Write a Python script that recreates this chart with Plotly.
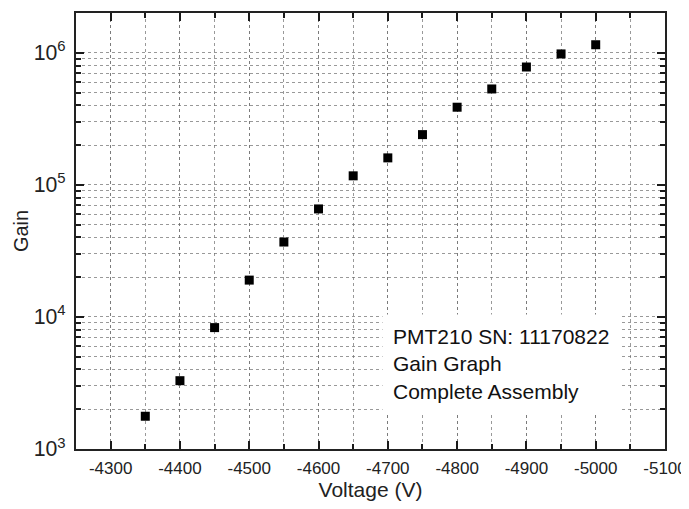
import plotly.graph_objects as go

voltage = [-4350, -4400, -4450, -4500, -4550, -4600, -4650, -4700,
           -4750, -4800, -4850, -4900, -4950, -5000]
gain = [1.77e3, 3.29e3, 8.3e3, 1.90e4, 3.69e4, 6.57e4, 1.17e5, 1.60e5,
        2.40e5, 3.87e5, 5.32e5, 7.8e5, 9.8e5, 1.15e6]
x_ticks = [-4300, -4400, -4500, -4600, -4700, -4800, -4900, -5000, -5100]
note_lines = ["PMT210 SN: 11170822", "Gain Graph", "Complete Assembly"]

FONT = "Liberation Sans, Arial, sans-serif"
TICK_COL = "#1a1a1a"

fig = go.Figure()
fig.add_trace(go.Scatter(
    x=voltage, y=gain, mode="markers",
    marker=dict(symbol="square", size=9, color="black"),
    showlegend=False,
))

grid_col = "rgba(110,110,110,0.7)"
fig.update_xaxes(
    range=[-4250, -5100], autorange=False,
    tickmode="array",
    tickvals=x_ticks, ticktext=[str(v) for v in x_ticks],
    ticks="inside", ticklen=8, tickwidth=2, tickcolor=TICK_COL,
    showline=True, linecolor="#222", linewidth=2, mirror="allticks",
    showgrid=True, gridcolor=grid_col, griddash="dot", gridwidth=1,
    minor=dict(dtick=50, tick0=-4250, ticks="inside", ticklen=5, tickwidth=1.5,
               tickcolor=TICK_COL, showgrid=True, gridcolor=grid_col,
               griddash="dot", gridwidth=1),
    zeroline=False, automargin=False, ticklabelstandoff=3,
    ticklabeloverflow="allow",
    tickfont=dict(family=FONT, size=17, color="#222"),
    title=dict(text="Voltage (V)", font=dict(family=FONT, size=21, color="#222"),
               standoff=7),
)
fig.update_yaxes(
    type="log", range=[3, 6.301], autorange=False,
    dtick=1, exponentformat="power",
    ticks="inside", ticklen=8, tickwidth=2, tickcolor=TICK_COL,
    showline=True, linecolor="#222", linewidth=2, mirror="allticks",
    showgrid=True, gridcolor=grid_col, griddash="dot", gridwidth=1,
    minor=dict(dtick="D1", ticks="inside", ticklen=5, tickwidth=1.5,
               tickcolor=TICK_COL, showgrid=True, gridcolor=grid_col,
               griddash="dot", gridwidth=1),
    zeroline=False, automargin=False, ticklabelstandoff=5,
    tickfont=dict(family=FONT, size=17, color="#222"),
    title=dict(text="Gain", font=dict(family=FONT, size=20, color="#222"),
               standoff=0),
)

fig.add_annotation(
    x=0.52, y=0.195, xref="paper", yref="paper",
    xanchor="left", yanchor="middle",
    text="<br>".join(note_lines), align="left", showarrow=False,
    font=dict(family=FONT, size=21, color="#111"),
    bgcolor="white", borderpad=10,
)

# The page body has an 8px default margin; size the figure so the plot
# area lands where the reference has it.
fig.update_layout(
    width=681, height=493,
    margin=dict(l=68, r=24, t=5, b=52),
    paper_bgcolor="white", plot_bgcolor="white",
)

fig.write_html("out.html")
